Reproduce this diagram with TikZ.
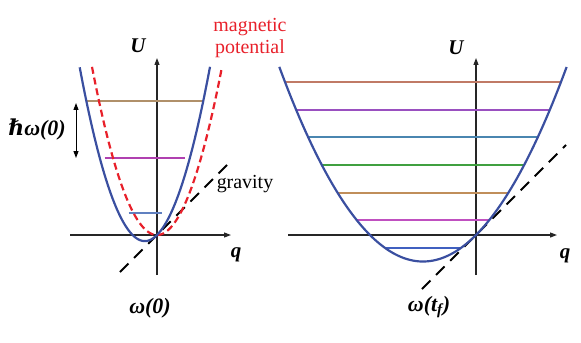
\documentclass[tikz,border=0pt]{standalone}
\usepackage{fontspec}
\setmainfont{Liberation Serif}
\newfontfamily\hbarfont{DejaVu Serif}
\usetikzlibrary{arrows.meta}
\definecolor{wellBlue}{HTML}{3A4FA0}
\definecolor{magRed}{HTML}{E8202A}
\definecolor{lvTan}{HTML}{B0906A}
\definecolor{lvPurple}{HTML}{B040B0}
\definecolor{lvSteel}{HTML}{6080C0}
\definecolor{lvBrown}{HTML}{C07A66}
\definecolor{lvViolet}{HTML}{9A50C0}
\definecolor{lvTeal}{HTML}{4A86B0}
\definecolor{lvGreen}{HTML}{40A040}
\definecolor{lvOchre}{HTML}{C08E5A}
\definecolor{lvPink}{HTML}{C050C0}
\definecolor{lvBlue}{HTML}{4060C0}
\tikzset{
  wells/.style = {
    font=\fontsize{20}{23}\selectfont,
    >={Triangle[length=7pt, width=5pt]},
  },
  axis/.style = {->, line width=1.1pt, draw=black!85},
  well/.style = {line width=2.2pt, draw=wellBlue},
  magwell/.style = {line width=2.2pt, draw=magRed, dash pattern=on 7pt off 4pt},
  grav/.style = {line width=1.8pt, draw=black, dash pattern=on 12pt off 8pt},
  level/.style = {line width=1.5pt},
  axlbl/.style = {font=\fontsize{21}{24}\selectfont\bfseries\itshape},
  freq/.style = {font=\fontsize{22}{25}\selectfont\bfseries\itshape},
}

\begin{document}
\begin{tikzpicture}[wells, x=1bp, y=-1bp]
\useasboundingbox (0,0) rectangle (581,342);

% left well, omega(0)
\coordinate (o1) at (157,235);
\draw[axis] (70,235) -- (231,235);
\draw[axis] (157,275) -- (157,58);
\node[axlbl] (u1) at (138,46) {U};
\node[axlbl] (q1) at (236,255) {q};

\draw[level, lvTan]    (86.4,101) -- (203.3,101);
\draw[level, lvPurple] (104.7,158) -- (185.1,158);
\draw[level, lvSteel]  (128.7,213) -- (161.5,213);

\draw[grav] (120,272) -- (229,163);
\draw[magwell] plot[domain=-65:65, samples=70] ({157+\x},{235-0.0398*(\x)*(\x)});
\draw[well] plot[domain=-77.3:53, samples=80] ({157+\x},{235-(0.041*(\x)*(\x)+\x)});

\draw[<->, line width=1pt] (76,103) -- (76,158);
\node[freq] (hw) at (37,130) {{\hbarfont ℏ}ω(0)};
\node[freq] (w1) at (150,308) {ω(0)};
\node (grv) at (245,184) {gravity};
\node[text=magRed, align=center] (mag) at (250,38) {magnetic\\potential};

% right well, omega(t_f)
\coordinate (o2) at (476,235);
\draw[axis] (288,235) -- (557,235);
\draw[axis] (476,275) -- (476,58);
\node[axlbl] (u2) at (456,48) {U};
\node[axlbl] (q2) at (565,256) {q};

\foreach \yy/\cc in {82/lvBrown, 110/lvViolet, 137/lvTeal, 165/lvGreen,
                     193/lvOchre, 220/lvPink, 248/lvBlue} {
  \pgfmathsetmacro{\uu}{235-\yy}
  \pgfmathsetmacro{\rt}{sqrt(1+4*0.00943*\uu)}
  \draw[level, draw=\cc] ({476+(-1-\rt)/0.01886},\yy) -- ({476+(-1+\rt)/0.01886},\yy);
}

\draw[grav] (422,289) -- (566,145);
\draw[well] plot[domain=-196.7:90.6, samples=100] ({476+\x},{235-(0.00943*(\x)*(\x)+\x)});

\node[freq] (w2) at (429,307) {ω(t\textsubscript{\itshape f})};

\end{tikzpicture}
\end{document}
